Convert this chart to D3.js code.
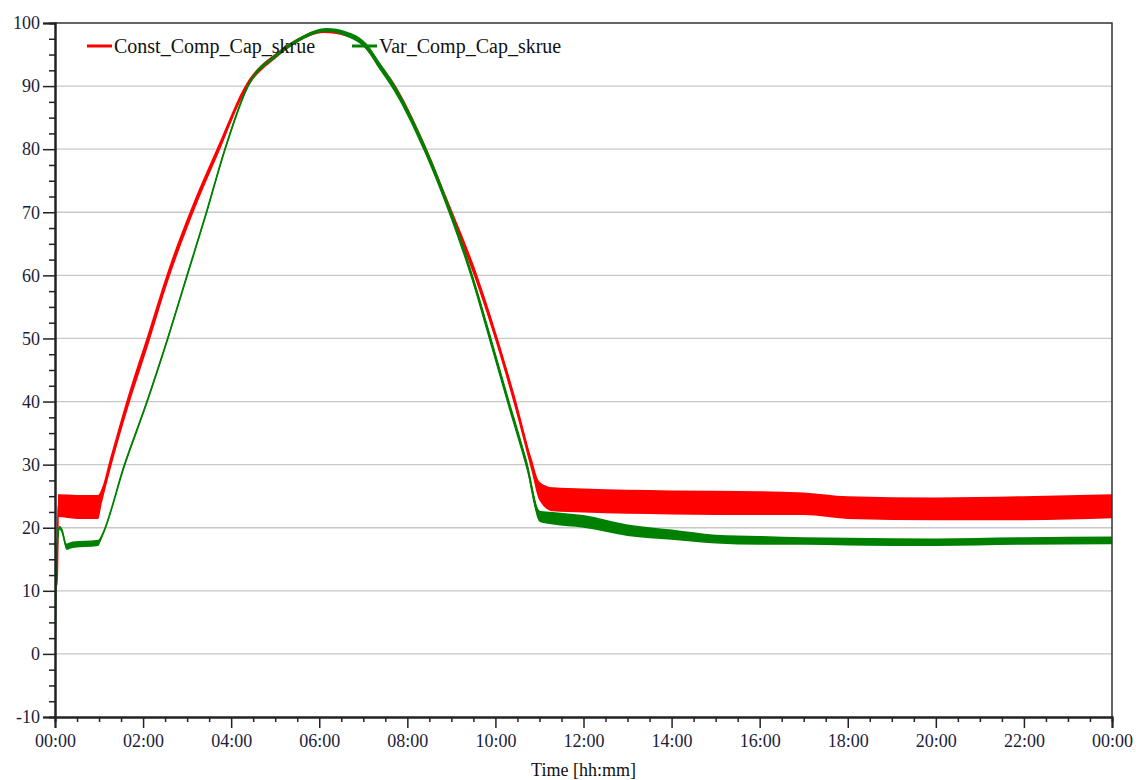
<!DOCTYPE html>
<html>
<head>
<meta charset="utf-8">
<script src="https://cdn.jsdelivr.net/npm/d3@7"></script>
<style>
  html, body { margin: 0; padding: 0; background: #fff; }
  svg { display: block; font-family: "Liberation Serif", "Times New Roman", serif; }
</style>
</head>
<body>
<svg width="1136" height="780"></svg>
<script>
// time in hours, value in %, spread = half width of the noise band
const constHours  = [0, 0.03, 0.05, 0.07, 0.5, 0.98, 1.06, 1.25, 1.66, 2.12, 2.57, 3.10, 3.71, 4.35, 5.05, 5.55, 6.1, 6.6, 7.08, 7.38, 7.70, 8.41, 8.99, 9.55, 10.02, 10.44, 10.82, 11.0, 11.3, 12, 14, 16, 17, 18, 20, 22, 24];
const constValues = [20, 11, 11, 23.5, 23.3, 23.3, 25, 30, 40, 50, 60, 70, 80, 90, 95.0, 97.4, 98.7, 98.2, 96.1, 93.1, 90, 80, 70, 60, 50, 40, 30, 25.8, 24.5, 24.3, 24.0, 23.9, 23.8, 23.2, 23.0, 23.1, 23.4];
const constSpread = [0, 0, 0, 1.8, 1.9, 1.9, 1.2, 1.0, 1.0, 1.0, 0.9, 0.8, 0.7, 0.5, 0.4, 0.3, 0.3, 0.3, 0.4, 0.5, 0.5, 0.6, 0.7, 0.8, 0.8, 0.9, 1.0, 1.5, 1.9, 1.9, 1.9, 1.9, 1.8, 1.8, 1.8, 1.9, 1.9];

const varHours  = [0, 0.02, 0.06, 0.1, 0.16, 0.26, 0.4, 0.98, 1.06, 1.58, 2.09, 2.56, 3.00, 3.44, 3.86, 4.38, 5.05, 5.55, 6.17, 6.6, 7.08, 7.38, 7.68, 8.40, 8.97, 9.46, 9.88, 10.29, 10.71, 11.01, 11.3, 12, 13, 14, 15, 16, 17, 18, 20, 22, 24];
const varValues = [0, 10, 18, 20, 19.5, 17.0, 17.3, 17.6, 18.6, 30, 40, 50, 60, 70, 80, 90, 95.0, 97.4, 98.9, 98.3, 96.2, 93.1, 90, 80, 70, 60, 50, 40, 30, 21.8, 21.5, 21.0, 19.6, 18.9, 18.2, 18.0, 17.9, 17.8, 17.7, 17.9, 18.0];
const varSpread = [0, 0, 0, 0.3, 0.4, 0.5, 0.5, 0.5, 0.3, 0.3, 0.3, 0.3, 0.3, 0.3, 0.3, 0.3, 0.3, 0.3, 0.3, 0.4, 0.5, 0.6, 0.6, 0.7, 0.7, 0.7, 0.8, 0.8, 0.8, 0.9, 1.0, 1.0, 0.9, 0.8, 0.7, 0.7, 0.6, 0.6, 0.6, 0.6, 0.6];

const yTickValues = [-10, 0, 10, 20, 30, 40, 50, 60, 70, 80, 90, 100];
const xTickValues = [0, 2, 4, 6, 8, 10, 12, 14, 16, 18, 20, 22, 24];
const seriesNames = ["Const_Comp_Cap_skrue", "Var_Comp_Cap_skrue"];
const seriesColors = ["#ff0000", "#008000"];

let svg = d3.select("svg");
let margin = {left: 55, top: 23, right: 1136 - 1112, bottom: 780 - 717};
let width = 1136 - margin.left - margin.right,
    height = 780 - margin.top - margin.bottom;

let x = d3.scaleLinear().domain([0, 24]).range([0, width]);
let y = d3.scaleLinear().domain([-10, 100]).range([height, 0]);

let g = svg.append("g").attr("transform", `translate(${margin.left},${margin.top})`);

// grid
g.append("g").selectAll("line")
  .data(yTickValues.filter(v => v > -10 && v < 100))
  .join("line")
    .attr("x1", 0).attr("x2", width)
    .attr("y1", d => y(d)).attr("y2", d => y(d))
    .attr("stroke", "#c8c8c8").attr("stroke-width", 1.3);

g.append("defs").append("clipPath").attr("id", "plot")
  .append("rect").attr("width", width).attr("height", height);

const fmt = h => String(h % 24).padStart(2, "0") + ":00";

function toRows(hours, values, spread) {
  return hours.map((t, i) => ({t: t, v: values[i], s: spread[i]}));
}
let series = [
  toRows(constHours, constValues, constSpread),
  toRows(varHours, varValues, varSpread)
];

let area = d3.area()
  .x(d => x(d.t))
  .y0(d => y(d.v - d.s))
  .y1(d => y(d.v + d.s))
  .curve(d3.curveMonotoneX);
let line = d3.line()
  .x(d => x(d.t))
  .y(d => y(d.v))
  .curve(d3.curveMonotoneX);

let plot = g.append("g").attr("clip-path", "url(#plot)");
series.forEach((rows, i) => {
  plot.append("path")
    .attr("d", area(rows))
    .attr("fill", seriesColors[i]);
  plot.append("path")
    .attr("d", line(rows))
    .attr("fill", "none")
    .attr("stroke", seriesColors[i])
    .attr("stroke-width", 1.8);
});

// frame
g.append("path")
  .attr("d", `M0,0H${width}V${height}`)
  .attr("fill", "none").attr("stroke", "#333").attr("stroke-width", 1.5);

// axes
g.append("g")
  .call(d3.axisLeft(y).tickValues(yTickValues).tickSize(12).tickPadding(3).tickFormat(d => String(d)));
g.append("g")
  .call(d3.axisLeft(y).tickValues(d3.range(-10, 100.1, 2.5).filter(v => v % 10 !== 0)).tickSize(6).tickFormat(""));

g.append("g").attr("transform", `translate(0,${height})`)
  .call(d3.axisBottom(x).tickValues(xTickValues).tickSize(11).tickPadding(6).tickFormat(fmt));
g.append("g").attr("transform", `translate(0,${height})`)
  .call(d3.axisBottom(x).tickValues(d3.range(0, 24, 0.5).filter(v => v % 2 !== 0)).tickSize(5).tickFormat(""));

g.selectAll(".domain").attr("stroke", "#222").attr("stroke-width", 2);
g.selectAll(".tick line").attr("stroke", "#222").attr("stroke-width", 1.5);
g.selectAll(".tick text")
  .style("font-family", "'Liberation Serif', serif")
  .attr("font-size", 18)
  .attr("fill", "#1c1c3a");

svg.append("text")
  .attr("x", margin.left + width / 2)
  .attr("y", 776)
  .attr("text-anchor", "middle")
  .attr("font-size", 18)
  .attr("fill", "#111")
  .text("Time [hh:mm]");

// legend
let legendX = [87, 352];
let legend = svg.append("g").selectAll("g")
  .data(seriesNames)
  .join("g")
    .attr("transform", (d, i) => `translate(${legendX[i]},46)`);
legend.append("line")
  .attr("x1", 0).attr("x2", 25)
  .attr("stroke", (d, i) => seriesColors[i])
  .attr("stroke-width", 3);
legend.append("text")
  .attr("x", 27).attr("y", 6.5)
  .attr("font-size", 20)
  .attr("fill", "#111")
  .text(d => d);
</script>
</body>
</html>
